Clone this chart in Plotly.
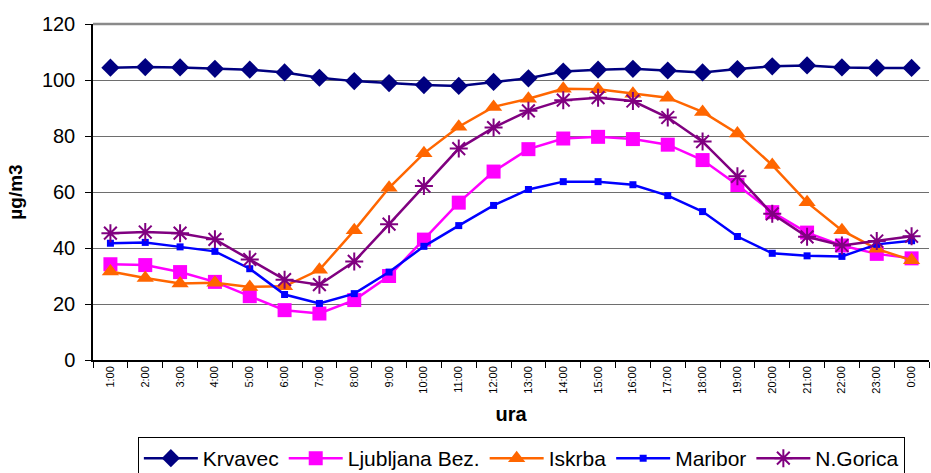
import plotly.graph_objects as go

hours = ["1:00", "2:00", "3:00", "4:00", "5:00", "6:00", "7:00", "8:00", "9:00", "10:00",
         "11:00", "12:00", "13:00", "14:00", "15:00", "16:00", "17:00", "18:00", "19:00",
         "20:00", "21:00", "22:00", "23:00", "0:00"]

krvavec = [104.4, 104.6, 104.5, 104.0, 103.7, 102.7, 100.8, 99.6, 98.9, 98.2, 97.9, 99.3,
           100.6, 103.0, 103.7, 104.0, 103.4, 102.7, 103.9, 104.9, 105.2, 104.5, 104.3, 104.3]
ljubljana = [34.2, 33.9, 31.4, 27.9, 22.8, 17.8, 16.6, 21.4, 30.0, 43.0, 56.2, 67.3,
             75.3, 79.1, 79.7, 78.9, 76.9, 71.4, 62.5, 52.8, 45.5, 40.9, 37.9, 36.3]
iskrba = [31.6, 29.3, 27.3, 27.6, 26.1, 26.3, 32.2, 46.3, 61.5, 73.8, 83.3, 90.4,
          93.3, 96.9, 96.7, 95.1, 93.7, 88.6, 80.9, 69.6, 56.3, 46.3, 39.7, 35.6]
maribor = [41.7, 42.0, 40.4, 38.8, 32.6, 23.4, 20.2, 23.7, 31.4, 40.6, 48.0, 55.2,
           60.9, 63.7, 63.7, 62.6, 58.7, 53.0, 44.1, 38.1, 37.2, 37.0, 41.3, 42.6]
ngorica = [45.3, 45.7, 45.3, 43.1, 35.9, 28.7, 26.9, 35.2, 48.5, 62.1, 75.5, 83.0,
           89.0, 92.8, 93.7, 92.5, 86.6, 78.0, 65.6, 52.2, 44.0, 40.9, 42.5, 44.2]

series = [
    ("Krvavec", krvavec, "#000080", "diamond", 14, None),
    ("Ljubljana Bez.", ljubljana, "#FF00FF", "square", 14, None),
    ("Iskrba", iskrba, "#FF6600", "triangle-up", 15, None),
    ("Maribor", maribor, "#0000FF", "square", 7, None),
    ("N.Gorica", ngorica, "#800080", "asterisk-open", 15, 2),
]

FONT = "Liberation Sans, Arial, sans-serif"

fig = go.Figure()
for name, vals, color, sym, size, lw in series:
    marker = dict(symbol=sym, size=size, color=color)
    if lw:
        marker["line"] = dict(color=color, width=lw)
    else:
        marker["line"] = dict(width=0)
    fig.add_trace(go.Scatter(
        x=hours, y=vals, name=name, mode="lines+markers",
        line=dict(color=color, width=2.5), marker=marker,
    ))

fig.update_layout(
    width=931, height=473,
    margin=dict(l=93, r=2, t=24, b=113, autoexpand=False),
    paper_bgcolor="white", plot_bgcolor="white",
    font=dict(family=FONT, color="black"),
    showlegend=True,
    legend=dict(
        orientation="h", xref="container", yref="container",
        x=0.56, xanchor="center", y=0.076, yanchor="top",
        bordercolor="black", borderwidth=1, bgcolor="white",
        font=dict(family=FONT, size=21, color="black"),
        itemwidth=54,
    ),
)

fig.update_xaxes(
    type="category", range=[-0.5, 23.5], automargin=False,
    tickangle=-90, tickfont=dict(size=11, family=FONT),
    ticks="outside", ticklen=6, tickcolor="black", tickson="boundaries",
    showline=True, linecolor="black", linewidth=1.5,
    showgrid=False, zeroline=False,
    title=dict(text="<b>ura</b>", font=dict(size=20, family=FONT), standoff=14),
)
fig.update_yaxes(
    range=[0, 120], dtick=20, tick0=0, automargin=False,
    tickfont=dict(size=20, family=FONT),
    ticks="outside", ticklen=6, tickcolor="black", ticklabelstandoff=6,
    showline=True, linecolor="black", linewidth=1.5,
    showgrid=True, gridcolor="#6e6e6e", gridwidth=1,
    zeroline=False,
    title=dict(text="<b>µg/m3</b>", font=dict(size=19, family=FONT), standoff=14),
)
# top boundary line at 120 (gray, thicker)
fig.add_shape(type="line", xref="paper", yref="paper", x0=0, x1=1, y0=1, y1=1,
              line=dict(color="#8a8a8a", width=2.5))

fig.write_html("out.html", config={"displayModeBar": False},
               post_script="document.body.style.margin='0';")
